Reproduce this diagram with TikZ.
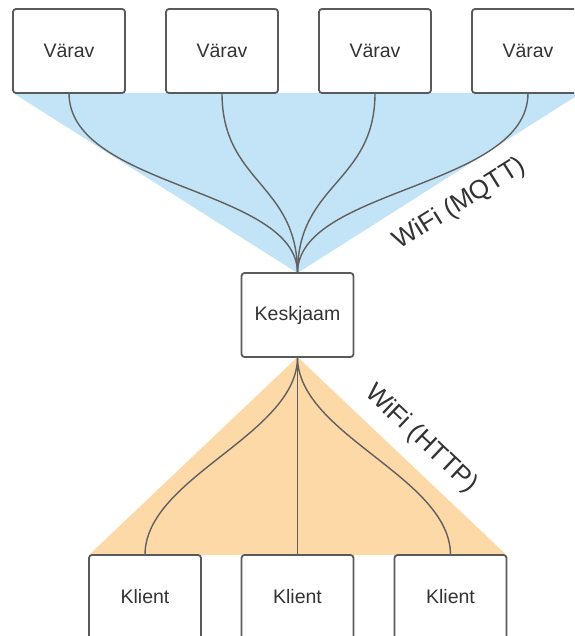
\documentclass[tikz,border=0pt]{standalone}
\usepackage{fontspec}
\setmainfont{Liberation Sans}
\usetikzlibrary{backgrounds}
\definecolor{edgegray}{HTML}{5A5A5A}
\definecolor{linkgray}{HTML}{606060}
\definecolor{txtgray}{HTML}{333333}
\definecolor{mqttblue}{HTML}{C3E4F6}
\definecolor{httporange}{HTML}{FDD9A7}
\tikzset{
  unit/.style={draw=edgegray, line width=1.8pt, fill=white, rounded corners=3pt,
    minimum width=112pt, minimum height=84pt, inner sep=0pt, outer sep=0pt,
    text=txtgray, font=\fontsize{19.5}{23}\selectfont},
  link/.style={draw=linkgray, line width=1.4pt},
  proto/.style={text=txtgray, font=\fontsize{26}{30}\selectfont, inner sep=0pt}
}
\begin{document}
\begin{tikzpicture}[x=1pt, y=-1pt]
\useasboundingbox (0,0) rectangle (574,636);
\clip (0,0) rectangle (574,636);

% gateways
\node[unit] (v1) at (69,51) {Värav};
\node[unit] (v2) at (222,51) {Värav};
\node[unit] (v3) at (375,51) {Värav};
\node[unit] (v4) at (528,51) {Värav};

% central station
\node[unit] (hub) at (297.5,315) {Keskjaam};

% clients
\node[unit] (k1) at (145,597) {Klient};
\node[unit] (k2) at (297.5,597) {Klient};
\node[unit] (k3) at (450.5,597) {Klient};

\coordinate (mqttR) at (581,93);

\begin{scope}[on background layer]
  \fill[mqttblue] (v1.south west) -- (mqttR) -- (hub.north) -- cycle;
  \fill[httporange] (hub.south) -- (k3.north east) -- (k1.north west) -- cycle;
\end{scope}

% MQTT links
\draw[link] (v1.south) .. controls +(0,95) and +(0,-85) .. (hub.north);
\draw[link] (v2.south) .. controls +(0,90) and +(0,-90) .. (hub.north);
\draw[link] (v3.south) .. controls +(0,90) and +(0,-90) .. (hub.north);
\draw[link] (v4.south) .. controls +(0,95) and +(0,-85) .. (hub.north);

% HTTP links
\draw[link] (hub.south) .. controls +(0,78) and +(0,-78) .. (k1.north);
\draw[link] (hub.south) -- (k2.north);
\draw[link] (hub.south) .. controls +(0,78) and +(0,-78) .. (k3.north);

\node[proto, rotate=32] (lmqtt) at (460,204) {WiFi (MQTT)};
\node[proto, rotate=-43.5] (lhttp) at (421,439) {WiFi (HTTP)};
\end{tikzpicture}
\end{document}
